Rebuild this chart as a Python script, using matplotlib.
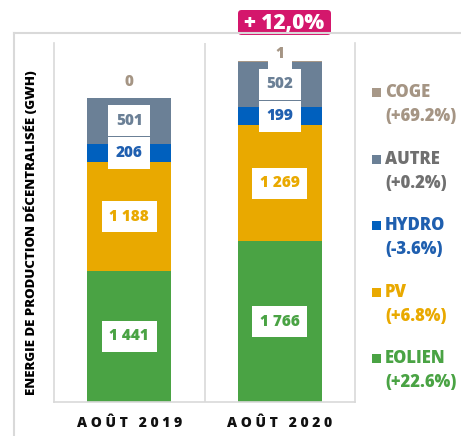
import matplotlib.pyplot as plt
from matplotlib.patches import Rectangle, FancyBboxPatch
from matplotlib.lines import Line2D

plt.rcParams['font.family'] = ['Open Sans', 'DejaVu Sans']
BOLD = 'heavy'

# data
categories = ['AOÛT 2019', 'AOÛT 2020']
series = ['EOLIEN', 'PV', 'HYDRO', 'AUTRE', 'COGE']
eolien = [1441, 1766]
pv = [1188, 1269]
hydro = [206, 199]
autre = [501, 502]
coge = [0, 1]
evolutions = ['+22.6%', '+6.8%', '-3.6%', '+0.2%', '+69.2%']
total_change = '+ 12,0%'

bar_colors = ['#4AA344', '#E9A900', '#0060BE', '#6B8096', '#A79888']
text_colors = ['#4AA344', '#E9A900', '#1F5FB0', '#6B8096', '#A59584']
legend_text_colors = ['#4AA344', '#E9A900', '#1F5FAF', '#707070', '#A59584']

W, H = 461, 436
fig = plt.figure(figsize=(W / 100, H / 100), dpi=100)
ax = fig.add_axes([54 / W, 1 - 402 / H, (355 - 54) / W, (402 - 43) / H])

values = [eolien, pv, hydro, autre, coge]
x = list(range(len(categories)))
bottom = [0] * len(categories)
for vals, col, tcol, name in zip(values, bar_colors, text_colors, series):
    bars = ax.bar(x, vals, width=0.56, bottom=bottom, color=col, edgecolor='none')
    for i, (b, v) in enumerate(zip(bars, vals)):
        txt = f'{v:,}'.replace(',', ' ')
        if name == 'COGE':
            off = 16 if i == 0 else 7
            ax.annotate(txt, (b.get_x() + b.get_width() / 2, bottom[i] + v),
                        xytext=(0, off), textcoords='offset pixels',
                        ha='center', va='center', fontsize=11, fontweight=BOLD, color=tcol,
                        bbox=dict(boxstyle='square,pad=0.5', fc='white', ec='none'))
        else:
            ax.text(b.get_x() + b.get_width() / 2, bottom[i] + v / 2, txt,
                    ha='center', va='center', fontsize=11, fontweight=BOLD, color=tcol,
                    bbox=dict(boxstyle='square,pad=0.5', fc='white', ec='none'))
    bottom = [bt + v for bt, v in zip(bottom, vals)]

ax.set_xlim(-0.5, 1.5)
ax.set_ylim(0, 3940)
ax.axvline(0.5, color='#D9D9D9', lw=1.2, zorder=0)
for s in ['left', 'right', 'bottom']:
    ax.spines[s].set_color('#D9D9D9')
    ax.spines[s].set_linewidth(1.2)
ax.spines['top'].set_visible(False)
ax.set_yticks([])
ax.set_xticks(x)
ax.set_xticklabels([' '.join(c) for c in categories], fontsize=10, fontweight=BOLD, color='#111111')
ax.tick_params(axis='x', length=0, pad=10)
ax.set_ylabel('ENERGIE DE PRODUCTION DÉCENTRALISÉE (GWH)', fontsize=9.5, fontweight=BOLD, color='black')
ax.yaxis.set_label_coords(-0.053, 0.472)

# outer frame
fig.add_artist(Line2D([14 / W, 14 / W], [0, 1 - 33 / H], color='#D9D9D9', lw=1.5))
fig.add_artist(Line2D([14 / W, 1], [1 - 33 / H, 1 - 33 / H], color='#D9D9D9', lw=1.5))

# total change badge
fig.add_artist(FancyBboxPatch((238 / W, 1 - 35 / H), 93 / W, 25 / H,
                              boxstyle='round,pad=0,rounding_size=0.008',
                              fc='#D4176C', ec='none', transform=fig.transFigure))
fig.text(284.5 / W, 1 - 23 / H, total_change, ha='center', va='center',
         fontsize=15, fontweight=BOLD, color='white')

# legend
for k, idx in enumerate(reversed(range(len(series)))):
    y1 = 92.7 + k * 66.5
    fig.add_artist(Rectangle((372 / W, 1 - (y1 + 4.5) / H), 9 / W, 9 / H,
                             fc=bar_colors[idx], ec='none', transform=fig.transFigure))
    fig.text(385 / W, 1 - y1 / H, series[idx], ha='left', va='center',
             fontsize=12, fontweight=BOLD, color=legend_text_colors[idx])
    fig.text(385 / W, 1 - (y1 + 24) / H, f'({evolutions[idx]})', ha='left', va='center',
             fontsize=12, fontweight=BOLD, color=legend_text_colors[idx])

fig.savefig('out.png', dpi=100)
